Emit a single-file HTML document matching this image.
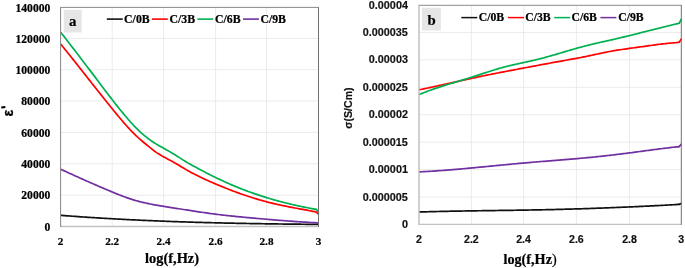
<!DOCTYPE html>
<html><head><meta charset="utf-8"><title>chart</title>
<style>
html,body{margin:0;padding:0;background:#fff;}
body{width:685px;height:268px;overflow:hidden;font-family:"Liberation Sans",sans-serif;}
svg{display:block;will-change:transform;}
</style></head><body>
<svg width="685" height="268" viewBox="0 0 685 268">
<rect x="0" y="0" width="685" height="268" fill="#ffffff"/>
<line x1="60.60" y1="38.40" x2="318.50" y2="38.40" stroke="#e6e6e6" stroke-width="0.8"/>
<line x1="60.60" y1="69.70" x2="318.50" y2="69.70" stroke="#e6e6e6" stroke-width="0.8"/>
<line x1="60.60" y1="101.00" x2="318.50" y2="101.00" stroke="#e6e6e6" stroke-width="0.8"/>
<line x1="60.60" y1="132.40" x2="318.50" y2="132.40" stroke="#e6e6e6" stroke-width="0.8"/>
<line x1="60.60" y1="163.80" x2="318.50" y2="163.80" stroke="#e6e6e6" stroke-width="0.8"/>
<line x1="60.60" y1="195.30" x2="318.50" y2="195.30" stroke="#e6e6e6" stroke-width="0.8"/>
<line x1="112.20" y1="7.40" x2="112.20" y2="226.50" stroke="#e6e6e6" stroke-width="0.8"/>
<line x1="163.60" y1="7.40" x2="163.60" y2="226.50" stroke="#e6e6e6" stroke-width="0.8"/>
<line x1="215.60" y1="7.40" x2="215.60" y2="226.50" stroke="#e6e6e6" stroke-width="0.8"/>
<line x1="266.50" y1="7.40" x2="266.50" y2="226.50" stroke="#e6e6e6" stroke-width="0.8"/>
<rect x="63.8" y="9.8" width="17.9" height="22.7" fill="#e7e6e6"/>
<path d="M60.70,215.34 L62.22,215.45 L63.73,215.57 L65.25,215.68 L66.76,215.80 L68.28,215.91 L69.80,216.02 L71.31,216.13 L72.83,216.24 L74.34,216.35 L75.86,216.46 L77.37,216.57 L78.89,216.67 L80.41,216.78 L81.92,216.88 L83.44,216.98 L84.95,217.09 L86.47,217.19 L87.99,217.29 L89.50,217.39 L91.02,217.49 L92.53,217.58 L94.05,217.68 L95.57,217.77 L97.08,217.87 L98.60,217.96 L100.11,218.06 L101.63,218.15 L103.14,218.24 L104.66,218.33 L106.18,218.42 L107.69,218.51 L109.21,218.59 L110.72,218.68 L112.24,218.76 L113.76,218.85 L115.27,218.93 L116.79,219.02 L118.30,219.10 L119.82,219.18 L121.34,219.26 L122.85,219.34 L124.37,219.42 L125.88,219.50 L127.40,219.57 L128.91,219.65 L130.43,219.73 L131.95,219.80 L133.46,219.87 L134.98,219.95 L136.49,220.02 L138.01,220.09 L139.53,220.16 L141.04,220.23 L142.56,220.30 L144.07,220.37 L145.59,220.44 L147.11,220.51 L148.62,220.57 L150.14,220.64 L151.65,220.70 L153.17,220.77 L154.68,220.83 L156.20,220.89 L157.72,220.95 L159.23,221.01 L160.75,221.07 L162.26,221.13 L163.78,221.19 L165.30,221.25 L166.81,221.31 L168.33,221.37 L169.84,221.42 L171.36,221.48 L172.88,221.53 L174.39,221.59 L175.91,221.64 L177.42,221.69 L178.94,221.74 L180.45,221.80 L181.97,221.85 L183.49,221.90 L185.00,221.95 L186.52,222.00 L188.03,222.04 L189.55,222.09 L191.07,222.14 L192.58,222.18 L194.10,222.23 L195.61,222.28 L197.13,222.32 L198.65,222.36 L200.16,222.41 L201.68,222.45 L203.19,222.49 L204.71,222.53 L206.22,222.58 L207.74,222.62 L209.26,222.66 L210.77,222.70 L212.29,222.73 L213.80,222.77 L215.32,222.81 L216.84,222.85 L218.35,222.88 L219.87,222.92 L221.38,222.96 L222.90,222.99 L224.42,223.03 L225.93,223.06 L227.45,223.09 L228.96,223.13 L230.48,223.16 L231.99,223.19 L233.51,223.22 L235.03,223.26 L236.54,223.29 L238.06,223.32 L239.57,223.35 L241.09,223.38 L242.61,223.40 L244.12,223.43 L245.64,223.46 L247.15,223.49 L248.67,223.52 L250.19,223.54 L251.70,223.57 L253.22,223.60 L254.73,223.62 L256.25,223.65 L257.76,223.67 L259.28,223.69 L260.80,223.72 L262.31,223.74 L263.83,223.77 L265.34,223.79 L266.86,223.81 L268.38,223.83 L269.89,223.85 L271.41,223.88 L272.92,223.90 L274.44,223.92 L275.96,223.94 L277.47,223.96 L278.99,223.98 L280.50,224.00 L282.02,224.01 L283.53,224.03 L285.05,224.05 L286.57,224.07 L288.08,224.09 L289.60,224.10 L291.11,224.12 L292.63,224.14 L294.15,224.15 L295.66,224.17 L297.18,224.19 L298.69,224.20 L300.21,224.22 L301.73,224.23 L303.24,224.25 L304.76,224.26 L306.27,224.28 L307.79,224.29 L309.30,224.30 L310.82,224.32 L312.34,224.33 L313.85,224.34 L315.37,224.36 L316.88,224.37 L318.40,224.38" fill="none" stroke="#111111" stroke-width="1.7" stroke-linejoin="round" stroke-linecap="butt"/>
<path d="M60.70,169.24 L62.22,169.94 L63.73,170.64 L65.25,171.34 L66.76,172.03 L68.28,172.72 L69.80,173.41 L71.31,174.10 L72.83,174.79 L74.34,175.48 L75.86,176.16 L77.37,176.85 L78.89,177.53 L80.41,178.21 L81.92,178.89 L83.44,179.56 L84.95,180.24 L86.47,180.91 L87.99,181.58 L89.50,182.25 L91.02,182.91 L92.53,183.57 L94.05,184.24 L95.57,184.89 L97.08,185.55 L98.60,186.21 L100.11,186.86 L101.63,187.51 L103.14,188.15 L104.66,188.80 L106.18,189.44 L107.69,190.08 L109.21,190.72 L110.72,191.35 L112.24,191.98 L113.76,192.61 L115.27,193.23 L116.79,193.85 L118.30,194.46 L119.82,195.06 L121.34,195.65 L122.85,196.23 L124.37,196.80 L125.88,197.35 L127.40,197.89 L128.91,198.41 L130.43,198.92 L131.95,199.40 L133.46,199.87 L134.98,200.32 L136.49,200.75 L138.01,201.17 L139.53,201.57 L141.04,201.95 L142.56,202.32 L144.07,202.68 L145.59,203.03 L147.11,203.36 L148.62,203.68 L150.14,203.99 L151.65,204.29 L153.17,204.58 L154.68,204.86 L156.20,205.14 L157.72,205.41 L159.23,205.67 L160.75,205.92 L162.26,206.17 L163.78,206.42 L165.30,206.66 L166.81,206.90 L168.33,207.13 L169.84,207.37 L171.36,207.60 L172.88,207.84 L174.39,208.07 L175.91,208.31 L177.42,208.54 L178.94,208.78 L180.45,209.02 L181.97,209.25 L183.49,209.49 L185.00,209.73 L186.52,209.96 L188.03,210.20 L189.55,210.43 L191.07,210.67 L192.58,210.90 L194.10,211.14 L195.61,211.37 L197.13,211.60 L198.65,211.82 L200.16,212.05 L201.68,212.27 L203.19,212.49 L204.71,212.71 L206.22,212.93 L207.74,213.14 L209.26,213.35 L210.77,213.56 L212.29,213.76 L213.80,213.96 L215.32,214.15 L216.84,214.34 L218.35,214.53 L219.87,214.72 L221.38,214.90 L222.90,215.07 L224.42,215.25 L225.93,215.42 L227.45,215.58 L228.96,215.75 L230.48,215.91 L231.99,216.07 L233.51,216.22 L235.03,216.38 L236.54,216.53 L238.06,216.68 L239.57,216.82 L241.09,216.97 L242.61,217.11 L244.12,217.25 L245.64,217.39 L247.15,217.53 L248.67,217.67 L250.19,217.81 L251.70,217.95 L253.22,218.08 L254.73,218.22 L256.25,218.35 L257.76,218.48 L259.28,218.62 L260.80,218.75 L262.31,218.88 L263.83,219.01 L265.34,219.14 L266.86,219.27 L268.38,219.40 L269.89,219.53 L271.41,219.66 L272.92,219.79 L274.44,219.91 L275.96,220.04 L277.47,220.16 L278.99,220.28 L280.50,220.40 L282.02,220.52 L283.53,220.64 L285.05,220.76 L286.57,220.87 L288.08,220.98 L289.60,221.10 L291.11,221.21 L292.63,221.32 L294.15,221.42 L295.66,221.53 L297.18,221.63 L298.69,221.74 L300.21,221.84 L301.73,221.93 L303.24,222.03 L304.76,222.12 L306.27,222.22 L307.79,222.31 L309.30,222.39 L310.82,222.48 L312.34,222.56 L313.85,222.64 L315.37,222.72 L316.88,222.80 L318.40,222.87" fill="none" stroke="#7030a0" stroke-width="1.7" stroke-linejoin="round" stroke-linecap="butt"/>
<path d="M60.70,44.08 L62.21,45.94 L63.72,47.80 L65.23,49.67 L66.74,51.55 L68.25,53.43 L69.76,55.31 L71.27,57.20 L72.79,59.10 L74.30,60.99 L75.81,62.90 L77.32,64.80 L78.83,66.71 L80.34,68.62 L81.85,70.53 L83.36,72.44 L84.87,74.36 L86.38,76.27 L87.89,78.19 L89.40,80.10 L90.91,82.02 L92.42,83.93 L93.93,85.85 L95.44,87.76 L96.96,89.67 L98.47,91.57 L99.98,93.48 L101.49,95.38 L103.00,97.28 L104.51,99.17 L106.02,101.06 L107.53,102.94 L109.04,104.82 L110.55,106.70 L112.06,108.57 L113.57,110.43 L115.08,112.28 L116.59,114.12 L118.10,115.95 L119.62,117.76 L121.13,119.55 L122.64,121.32 L124.15,123.07 L125.66,124.78 L127.17,126.47 L128.68,128.13 L130.19,129.75 L131.70,131.34 L133.21,132.88 L134.72,134.39 L136.23,135.84 L137.74,137.25 L139.25,138.62 L140.76,139.94 L142.28,141.23 L143.79,142.50 L145.30,143.75 L146.81,144.98 L148.32,146.21 L149.83,147.44 L151.34,148.67 L152.85,149.86 L154.36,151.00 L155.87,152.08 L157.38,153.10 L158.89,154.07 L160.40,155.00 L161.91,155.89 L163.42,156.74 L164.93,157.57 L166.45,158.37 L167.96,159.17 L169.47,159.96 L170.98,160.76 L172.49,161.58 L174.00,162.43 L175.51,163.30 L177.02,164.19 L178.53,165.10 L180.04,166.02 L181.55,166.93 L183.06,167.85 L184.57,168.75 L186.08,169.63 L187.59,170.50 L189.11,171.35 L190.62,172.18 L192.13,172.99 L193.64,173.79 L195.15,174.57 L196.66,175.33 L198.17,176.09 L199.68,176.82 L201.19,177.55 L202.70,178.26 L204.21,178.97 L205.72,179.66 L207.23,180.34 L208.74,181.02 L210.25,181.68 L211.77,182.34 L213.28,182.99 L214.79,183.63 L216.30,184.27 L217.81,184.90 L219.32,185.53 L220.83,186.15 L222.34,186.77 L223.85,187.38 L225.36,187.99 L226.87,188.58 L228.38,189.18 L229.89,189.76 L231.40,190.34 L232.91,190.92 L234.42,191.48 L235.94,192.04 L237.45,192.60 L238.96,193.14 L240.47,193.68 L241.98,194.22 L243.49,194.74 L245.00,195.26 L246.51,195.77 L248.02,196.27 L249.53,196.77 L251.04,197.26 L252.55,197.73 L254.06,198.21 L255.57,198.67 L257.08,199.12 L258.60,199.57 L260.11,200.01 L261.62,200.44 L263.13,200.86 L264.64,201.27 L266.15,201.67 L267.66,202.06 L269.17,202.45 L270.68,202.82 L272.19,203.19 L273.70,203.55 L275.21,203.90 L276.72,204.25 L278.23,204.59 L279.74,204.92 L281.26,205.25 L282.77,205.57 L284.28,205.88 L285.79,206.19 L287.30,206.50 L288.81,206.80 L290.32,207.10 L291.83,207.39 L293.34,207.68 L294.85,207.97 L296.36,208.25 L297.87,208.54 L299.38,208.82 L300.89,209.10 L302.40,209.38 L303.91,209.65 L305.43,209.93 L306.94,210.21 L308.45,210.48 L309.96,210.76 L311.47,211.04 L312.98,211.32 L314.49,211.60 L316.00,211.89" fill="none" stroke="#ff0000" stroke-width="1.7" stroke-linejoin="round" stroke-linecap="butt"/>
<path d="M316.00,211.89 L318.40,214.00" fill="none" stroke="#ff0000" stroke-width="1.7" stroke-linecap="round"/>
<path d="M60.70,32.20 L62.21,34.15 L63.73,36.11 L65.24,38.06 L66.75,40.02 L68.27,41.98 L69.78,43.94 L71.29,45.90 L72.80,47.87 L74.32,49.83 L75.83,51.80 L77.34,53.77 L78.86,55.74 L80.37,57.72 L81.88,59.70 L83.40,61.68 L84.91,63.66 L86.42,65.65 L87.93,67.64 L89.45,69.63 L90.96,71.62 L92.47,73.62 L93.99,75.63 L95.50,77.63 L97.01,79.64 L98.53,81.65 L100.04,83.66 L101.55,85.67 L103.06,87.68 L104.58,89.68 L106.09,91.68 L107.60,93.67 L109.12,95.65 L110.63,97.62 L112.14,99.58 L113.66,101.53 L115.17,103.46 L116.68,105.38 L118.19,107.28 L119.71,109.17 L121.22,111.03 L122.73,112.87 L124.25,114.69 L125.76,116.49 L127.27,118.25 L128.79,119.99 L130.30,121.69 L131.81,123.36 L133.32,124.99 L134.84,126.58 L136.35,128.14 L137.86,129.64 L139.38,131.11 L140.89,132.52 L142.40,133.88 L143.92,135.20 L145.43,136.45 L146.94,137.65 L148.46,138.80 L149.97,139.90 L151.48,140.95 L152.99,141.96 L154.51,142.93 L156.02,143.87 L157.53,144.77 L159.05,145.65 L160.56,146.51 L162.07,147.36 L163.59,148.21 L165.10,149.06 L166.61,149.91 L168.12,150.76 L169.64,151.63 L171.15,152.51 L172.66,153.40 L174.18,154.31 L175.69,155.23 L177.20,156.18 L178.72,157.16 L180.23,158.14 L181.74,159.13 L183.25,160.11 L184.77,161.06 L186.28,161.99 L187.79,162.88 L189.31,163.75 L190.82,164.60 L192.33,165.43 L193.85,166.25 L195.36,167.06 L196.87,167.87 L198.38,168.67 L199.90,169.47 L201.41,170.27 L202.92,171.06 L204.44,171.84 L205.95,172.63 L207.46,173.40 L208.98,174.17 L210.49,174.94 L212.00,175.70 L213.51,176.45 L215.03,177.19 L216.54,177.93 L218.05,178.66 L219.57,179.38 L221.08,180.10 L222.59,180.81 L224.11,181.50 L225.62,182.19 L227.13,182.87 L228.64,183.54 L230.16,184.20 L231.67,184.86 L233.18,185.50 L234.70,186.14 L236.21,186.76 L237.72,187.38 L239.24,187.99 L240.75,188.59 L242.26,189.18 L243.78,189.77 L245.29,190.34 L246.80,190.91 L248.31,191.47 L249.83,192.02 L251.34,192.56 L252.85,193.10 L254.37,193.63 L255.88,194.15 L257.39,194.66 L258.91,195.16 L260.42,195.66 L261.93,196.15 L263.44,196.63 L264.96,197.11 L266.47,197.58 L267.98,198.04 L269.50,198.49 L271.01,198.94 L272.52,199.38 L274.04,199.81 L275.55,200.24 L277.06,200.65 L278.57,201.07 L280.09,201.47 L281.60,201.87 L283.11,202.27 L284.63,202.65 L286.14,203.03 L287.65,203.41 L289.17,203.78 L290.68,204.14 L292.19,204.50 L293.70,204.85 L295.22,205.19 L296.73,205.53 L298.24,205.86 L299.76,206.19 L301.27,206.51 L302.78,206.83 L304.30,207.14 L305.81,207.45 L307.32,207.75 L308.83,208.04 L310.35,208.33 L311.86,208.62 L313.37,208.90 L314.89,209.17 L316.40,209.45" fill="none" stroke="#00b050" stroke-width="1.7" stroke-linejoin="round" stroke-linecap="butt"/>
<path d="M316.40,209.45 L318.40,212.00" fill="none" stroke="#00b050" stroke-width="1.7" stroke-linecap="round"/>
<line x1="60.60" y1="226.50" x2="318.50" y2="226.50" stroke="#c2c2c2" stroke-width="1.4"/>
<line x1="60.10" y1="7.40" x2="319.00" y2="7.40" stroke="#8a8a8a" stroke-width="1"/>
<line x1="318.50" y1="7.40" x2="318.50" y2="227.00" stroke="#707070" stroke-width="1"/>
<line x1="60.60" y1="7.40" x2="60.60" y2="227.00" stroke="#858585" stroke-width="1"/>
<text x="72.8" y="26.2" text-anchor="middle" font-family="Liberation Serif, serif" font-weight="bold" stroke="#000" stroke-width="0.22" font-size="14.8" fill="#000">a</text>
<text x="50.3" y="11.50" text-anchor="end" font-family="Liberation Serif, serif" font-weight="bold" stroke="#000" stroke-width="0.22" font-size="11.6" fill="#000">140000</text>
<text x="50.3" y="42.50" text-anchor="end" font-family="Liberation Serif, serif" font-weight="bold" stroke="#000" stroke-width="0.22" font-size="11.6" fill="#000">120000</text>
<text x="50.3" y="73.80" text-anchor="end" font-family="Liberation Serif, serif" font-weight="bold" stroke="#000" stroke-width="0.22" font-size="11.6" fill="#000">100000</text>
<text x="50.3" y="105.10" text-anchor="end" font-family="Liberation Serif, serif" font-weight="bold" stroke="#000" stroke-width="0.22" font-size="11.6" fill="#000">80000</text>
<text x="50.3" y="136.50" text-anchor="end" font-family="Liberation Serif, serif" font-weight="bold" stroke="#000" stroke-width="0.22" font-size="11.6" fill="#000">60000</text>
<text x="50.3" y="167.90" text-anchor="end" font-family="Liberation Serif, serif" font-weight="bold" stroke="#000" stroke-width="0.22" font-size="11.6" fill="#000">40000</text>
<text x="50.3" y="199.40" text-anchor="end" font-family="Liberation Serif, serif" font-weight="bold" stroke="#000" stroke-width="0.22" font-size="11.6" fill="#000">20000</text>
<text x="50.3" y="231.00" text-anchor="end" font-family="Liberation Serif, serif" font-weight="bold" stroke="#000" stroke-width="0.22" font-size="11.6" fill="#000">0</text>
<text x="60.60" y="245.2" text-anchor="middle" font-family="Liberation Serif, serif" font-weight="bold" stroke="#000" stroke-width="0.22" font-size="11.2" fill="#000">2</text>
<text x="112.20" y="245.2" text-anchor="middle" font-family="Liberation Serif, serif" font-weight="bold" stroke="#000" stroke-width="0.22" font-size="11.2" fill="#000">2.2</text>
<text x="163.60" y="245.2" text-anchor="middle" font-family="Liberation Serif, serif" font-weight="bold" stroke="#000" stroke-width="0.22" font-size="11.2" fill="#000">2.4</text>
<text x="215.60" y="245.2" text-anchor="middle" font-family="Liberation Serif, serif" font-weight="bold" stroke="#000" stroke-width="0.22" font-size="11.2" fill="#000">2.6</text>
<text x="266.50" y="245.2" text-anchor="middle" font-family="Liberation Serif, serif" font-weight="bold" stroke="#000" stroke-width="0.22" font-size="11.2" fill="#000">2.8</text>
<text x="318.50" y="245.2" text-anchor="middle" font-family="Liberation Serif, serif" font-weight="bold" stroke="#000" stroke-width="0.22" font-size="11.2" fill="#000">3</text>
<text x="172.1" y="262.7" text-anchor="middle" font-family="Liberation Serif, serif" font-weight="bold" stroke="#000" stroke-width="0.22" font-size="14.4" fill="#000">log(f,Hz)</text>
<text transform="translate(12.8,113.0) rotate(-90) scale(0.93,1)" text-anchor="middle" font-family="Liberation Sans, sans-serif" font-weight="bold" font-size="15.5" fill="#000" stroke="#000" stroke-width="0.3">ε</text>
<rect x="1.2" y="106.3" width="4.2" height="1.9" fill="#000" transform="rotate(-8 3.3 107.2)"/>
<line x1="106.80" y1="19.1" x2="122.70" y2="19.1" stroke="#111111" stroke-width="1.6"/>
<text x="124.10" y="22.9" font-family="Liberation Serif, serif" font-weight="bold" stroke="#000" stroke-width="0.22" font-size="11.8" fill="#000">C/0B</text>
<line x1="151.90" y1="19.1" x2="167.80" y2="19.1" stroke="#ff0000" stroke-width="1.6"/>
<text x="169.50" y="22.9" font-family="Liberation Serif, serif" font-weight="bold" stroke="#000" stroke-width="0.22" font-size="11.8" fill="#000">C/3B</text>
<line x1="197.40" y1="19.1" x2="213.30" y2="19.1" stroke="#00b050" stroke-width="1.6"/>
<text x="215.00" y="22.9" font-family="Liberation Serif, serif" font-weight="bold" stroke="#000" stroke-width="0.22" font-size="11.8" fill="#000">C/6B</text>
<line x1="243.00" y1="19.1" x2="258.90" y2="19.1" stroke="#7030a0" stroke-width="1.6"/>
<text x="260.40" y="22.9" font-family="Liberation Serif, serif" font-weight="bold" stroke="#000" stroke-width="0.22" font-size="11.8" fill="#000">C/9B</text>
<line x1="419.00" y1="32.45" x2="681.30" y2="32.45" stroke="#e6e6e6" stroke-width="0.8"/>
<line x1="419.00" y1="59.80" x2="681.30" y2="59.80" stroke="#e6e6e6" stroke-width="0.8"/>
<line x1="419.00" y1="87.30" x2="681.30" y2="87.30" stroke="#e6e6e6" stroke-width="0.8"/>
<line x1="419.00" y1="114.75" x2="681.30" y2="114.75" stroke="#e6e6e6" stroke-width="0.8"/>
<line x1="419.00" y1="142.20" x2="681.30" y2="142.20" stroke="#e6e6e6" stroke-width="0.8"/>
<line x1="419.00" y1="169.60" x2="681.30" y2="169.60" stroke="#e6e6e6" stroke-width="0.8"/>
<line x1="419.00" y1="197.10" x2="681.30" y2="197.10" stroke="#e6e6e6" stroke-width="0.8"/>
<line x1="471.40" y1="5.30" x2="471.40" y2="224.40" stroke="#e6e6e6" stroke-width="0.8"/>
<line x1="523.60" y1="5.30" x2="523.60" y2="224.40" stroke="#e6e6e6" stroke-width="0.8"/>
<line x1="576.40" y1="5.30" x2="576.40" y2="224.40" stroke="#e6e6e6" stroke-width="0.8"/>
<line x1="629.50" y1="5.30" x2="629.50" y2="224.40" stroke="#e6e6e6" stroke-width="0.8"/>
<rect x="421.9" y="7.8" width="19" height="22.7" fill="#e7e6e6"/>
<path d="M419.00,211.99 L420.51,211.95 L422.03,211.91 L423.54,211.86 L425.05,211.82 L426.56,211.78 L428.08,211.74 L429.59,211.70 L431.10,211.66 L432.62,211.62 L434.13,211.58 L435.64,211.55 L437.15,211.51 L438.67,211.48 L440.18,211.44 L441.69,211.41 L443.20,211.38 L444.72,211.34 L446.23,211.31 L447.74,211.28 L449.26,211.25 L450.77,211.22 L452.28,211.19 L453.79,211.17 L455.31,211.14 L456.82,211.11 L458.33,211.08 L459.85,211.06 L461.36,211.03 L462.87,211.01 L464.38,210.98 L465.90,210.96 L467.41,210.93 L468.92,210.91 L470.43,210.88 L471.95,210.86 L473.46,210.84 L474.97,210.81 L476.49,210.79 L478.00,210.77 L479.51,210.75 L481.02,210.73 L482.54,210.70 L484.05,210.68 L485.56,210.66 L487.08,210.64 L488.59,210.62 L490.10,210.60 L491.61,210.58 L493.13,210.56 L494.64,210.54 L496.15,210.51 L497.67,210.49 L499.18,210.47 L500.69,210.45 L502.20,210.43 L503.72,210.41 L505.23,210.39 L506.74,210.37 L508.25,210.35 L509.77,210.32 L511.28,210.30 L512.79,210.28 L514.31,210.26 L515.82,210.23 L517.33,210.21 L518.84,210.19 L520.36,210.17 L521.87,210.14 L523.38,210.12 L524.90,210.09 L526.41,210.07 L527.92,210.04 L529.43,210.02 L530.95,209.99 L532.46,209.96 L533.97,209.94 L535.48,209.91 L537.00,209.88 L538.51,209.85 L540.02,209.82 L541.54,209.79 L543.05,209.76 L544.56,209.73 L546.07,209.70 L547.59,209.67 L549.10,209.63 L550.61,209.60 L552.13,209.56 L553.64,209.53 L555.15,209.49 L556.66,209.46 L558.18,209.42 L559.69,209.38 L561.20,209.34 L562.72,209.30 L564.23,209.26 L565.74,209.22 L567.25,209.18 L568.77,209.14 L570.28,209.09 L571.79,209.05 L573.30,209.01 L574.82,208.96 L576.33,208.92 L577.84,208.87 L579.36,208.82 L580.87,208.78 L582.38,208.73 L583.89,208.68 L585.41,208.63 L586.92,208.58 L588.43,208.53 L589.95,208.48 L591.46,208.43 L592.97,208.37 L594.48,208.32 L596.00,208.27 L597.51,208.21 L599.02,208.16 L600.53,208.10 L602.05,208.05 L603.56,207.99 L605.07,207.93 L606.59,207.88 L608.10,207.82 L609.61,207.76 L611.12,207.70 L612.64,207.64 L614.15,207.58 L615.66,207.52 L617.18,207.46 L618.69,207.39 L620.20,207.33 L621.71,207.27 L623.23,207.20 L624.74,207.14 L626.25,207.07 L627.77,207.01 L629.28,206.94 L630.79,206.87 L632.30,206.81 L633.82,206.74 L635.33,206.67 L636.84,206.60 L638.35,206.53 L639.87,206.46 L641.38,206.39 L642.89,206.32 L644.41,206.25 L645.92,206.18 L647.43,206.10 L648.94,206.03 L650.46,205.95 L651.97,205.88 L653.48,205.80 L655.00,205.72 L656.51,205.65 L658.02,205.57 L659.53,205.49 L661.05,205.41 L662.56,205.33 L664.07,205.24 L665.58,205.16 L667.10,205.08 L668.61,204.99 L670.12,204.91 L671.64,204.82 L673.15,204.73 L674.66,204.65 L676.17,204.56 L677.69,204.47 L679.20,204.37" fill="none" stroke="#111111" stroke-width="1.7" stroke-linejoin="round" stroke-linecap="butt"/>
<path d="M679.20,204.37 L681.10,203.40" fill="none" stroke="#111111" stroke-width="1.7" stroke-linecap="round"/>
<path d="M419.00,171.90 L420.51,171.83 L422.03,171.75 L423.54,171.67 L425.05,171.59 L426.56,171.50 L428.08,171.41 L429.59,171.32 L431.10,171.23 L432.62,171.13 L434.13,171.03 L435.64,170.93 L437.15,170.83 L438.67,170.72 L440.18,170.61 L441.69,170.50 L443.20,170.39 L444.72,170.28 L446.23,170.16 L447.74,170.04 L449.26,169.92 L450.77,169.80 L452.28,169.67 L453.79,169.55 L455.31,169.42 L456.82,169.29 L458.33,169.16 L459.85,169.03 L461.36,168.90 L462.87,168.76 L464.38,168.63 L465.90,168.49 L467.41,168.35 L468.92,168.21 L470.43,168.07 L471.95,167.93 L473.46,167.79 L474.97,167.65 L476.49,167.50 L478.00,167.36 L479.51,167.22 L481.02,167.07 L482.54,166.92 L484.05,166.78 L485.56,166.63 L487.08,166.49 L488.59,166.34 L490.10,166.19 L491.61,166.04 L493.13,165.90 L494.64,165.75 L496.15,165.60 L497.67,165.46 L499.18,165.31 L500.69,165.16 L502.20,165.02 L503.72,164.87 L505.23,164.73 L506.74,164.58 L508.25,164.44 L509.77,164.30 L511.28,164.15 L512.79,164.01 L514.31,163.87 L515.82,163.73 L517.33,163.59 L518.84,163.46 L520.36,163.32 L521.87,163.18 L523.38,163.05 L524.90,162.92 L526.41,162.79 L527.92,162.66 L529.43,162.53 L530.95,162.40 L532.46,162.27 L533.97,162.15 L535.48,162.02 L537.00,161.90 L538.51,161.77 L540.02,161.65 L541.54,161.52 L543.05,161.40 L544.56,161.28 L546.07,161.16 L547.59,161.04 L549.10,160.92 L550.61,160.79 L552.13,160.67 L553.64,160.55 L555.15,160.43 L556.66,160.31 L558.18,160.19 L559.69,160.06 L561.20,159.94 L562.72,159.82 L564.23,159.69 L565.74,159.57 L567.25,159.44 L568.77,159.32 L570.28,159.19 L571.79,159.06 L573.30,158.93 L574.82,158.80 L576.33,158.67 L577.84,158.54 L579.36,158.41 L580.87,158.27 L582.38,158.13 L583.89,158.00 L585.41,157.86 L586.92,157.72 L588.43,157.57 L589.95,157.43 L591.46,157.28 L592.97,157.13 L594.48,156.98 L596.00,156.83 L597.51,156.67 L599.02,156.51 L600.53,156.36 L602.05,156.19 L603.56,156.03 L605.07,155.86 L606.59,155.70 L608.10,155.53 L609.61,155.35 L611.12,155.18 L612.64,155.00 L614.15,154.83 L615.66,154.65 L617.18,154.46 L618.69,154.28 L620.20,154.09 L621.71,153.90 L623.23,153.71 L624.74,153.52 L626.25,153.33 L627.77,153.13 L629.28,152.94 L630.79,152.74 L632.30,152.54 L633.82,152.34 L635.33,152.14 L636.84,151.93 L638.35,151.73 L639.87,151.53 L641.38,151.32 L642.89,151.12 L644.41,150.91 L645.92,150.71 L647.43,150.50 L648.94,150.30 L650.46,150.10 L651.97,149.90 L653.48,149.70 L655.00,149.50 L656.51,149.30 L658.02,149.10 L659.53,148.91 L661.05,148.72 L662.56,148.52 L664.07,148.34 L665.58,148.15 L667.10,147.97 L668.61,147.79 L670.12,147.61 L671.64,147.44 L673.15,147.27 L674.66,147.10 L676.17,146.94 L677.69,146.78 L679.20,146.62" fill="none" stroke="#7030a0" stroke-width="1.7" stroke-linejoin="round" stroke-linecap="butt"/>
<path d="M679.20,146.62 L681.10,144.40" fill="none" stroke="#7030a0" stroke-width="1.7" stroke-linecap="round"/>
<path d="M419.00,89.85 L420.51,89.54 L422.03,89.23 L423.54,88.92 L425.06,88.60 L426.57,88.29 L428.08,87.97 L429.60,87.64 L431.11,87.32 L432.63,87.00 L434.14,86.67 L435.65,86.34 L437.17,86.01 L438.68,85.68 L440.20,85.34 L441.71,85.01 L443.22,84.68 L444.74,84.34 L446.25,84.00 L447.77,83.67 L449.28,83.33 L450.79,82.99 L452.31,82.65 L453.82,82.31 L455.33,81.97 L456.85,81.64 L458.36,81.30 L459.88,80.96 L461.39,80.62 L462.90,80.29 L464.42,79.95 L465.93,79.62 L467.45,79.28 L468.96,78.95 L470.47,78.62 L471.99,78.29 L473.50,77.96 L475.02,77.63 L476.53,77.31 L478.04,76.98 L479.56,76.66 L481.07,76.34 L482.59,76.03 L484.10,75.71 L485.61,75.40 L487.13,75.09 L488.64,74.78 L490.16,74.48 L491.67,74.17 L493.18,73.87 L494.70,73.57 L496.21,73.27 L497.73,72.97 L499.24,72.68 L500.75,72.39 L502.27,72.09 L503.78,71.80 L505.30,71.51 L506.81,71.22 L508.32,70.93 L509.84,70.64 L511.35,70.36 L512.87,70.07 L514.38,69.79 L515.89,69.50 L517.41,69.22 L518.92,68.93 L520.43,68.65 L521.95,68.36 L523.46,68.08 L524.98,67.79 L526.49,67.51 L528.00,67.22 L529.52,66.94 L531.03,66.65 L532.55,66.37 L534.06,66.09 L535.57,65.80 L537.09,65.52 L538.60,65.24 L540.12,64.95 L541.63,64.67 L543.14,64.39 L544.66,64.11 L546.17,63.83 L547.69,63.55 L549.20,63.27 L550.71,62.99 L552.23,62.71 L553.74,62.43 L555.26,62.16 L556.77,61.88 L558.28,61.61 L559.80,61.34 L561.31,61.06 L562.83,60.79 L564.34,60.52 L565.85,60.25 L567.37,59.98 L568.88,59.71 L570.40,59.44 L571.91,59.16 L573.42,58.89 L574.94,58.61 L576.45,58.32 L577.97,58.04 L579.48,57.75 L580.99,57.46 L582.51,57.16 L584.02,56.86 L585.53,56.55 L587.05,56.24 L588.56,55.92 L590.08,55.60 L591.59,55.27 L593.10,54.94 L594.62,54.62 L596.13,54.29 L597.65,53.96 L599.16,53.64 L600.67,53.32 L602.19,53.00 L603.70,52.69 L605.22,52.38 L606.73,52.08 L608.24,51.78 L609.76,51.50 L611.27,51.22 L612.79,50.95 L614.30,50.69 L615.81,50.44 L617.33,50.19 L618.84,49.95 L620.36,49.72 L621.87,49.49 L623.38,49.26 L624.90,49.04 L626.41,48.82 L627.93,48.61 L629.44,48.40 L630.95,48.19 L632.47,47.98 L633.98,47.78 L635.50,47.57 L637.01,47.37 L638.52,47.17 L640.04,46.96 L641.55,46.76 L643.07,46.55 L644.58,46.34 L646.09,46.13 L647.61,45.92 L649.12,45.70 L650.63,45.49 L652.15,45.28 L653.66,45.07 L655.18,44.86 L656.69,44.65 L658.20,44.45 L659.72,44.26 L661.23,44.07 L662.75,43.89 L664.26,43.72 L665.77,43.56 L667.29,43.41 L668.80,43.27 L670.32,43.14 L671.83,43.02 L673.34,42.89 L674.86,42.76 L676.37,42.60 L677.89,42.41 L679.40,42.18" fill="none" stroke="#ff0000" stroke-width="1.7" stroke-linejoin="round" stroke-linecap="butt"/>
<path d="M679.40,42.18 L681.10,39.20" fill="none" stroke="#ff0000" stroke-width="1.7" stroke-linecap="round"/>
<path d="M419.00,94.58 L420.51,93.96 L422.03,93.35 L423.54,92.76 L425.06,92.17 L426.57,91.60 L428.08,91.04 L429.60,90.49 L431.11,89.95 L432.63,89.41 L434.14,88.89 L435.65,88.37 L437.17,87.86 L438.68,87.36 L440.20,86.86 L441.71,86.37 L443.22,85.89 L444.74,85.41 L446.25,84.93 L447.77,84.46 L449.28,84.00 L450.79,83.53 L452.31,83.07 L453.82,82.61 L455.33,82.15 L456.85,81.70 L458.36,81.24 L459.88,80.79 L461.39,80.33 L462.90,79.87 L464.42,79.42 L465.93,78.96 L467.45,78.49 L468.96,78.03 L470.47,77.56 L471.99,77.09 L473.50,76.61 L475.02,76.13 L476.53,75.65 L478.04,75.16 L479.56,74.66 L481.07,74.17 L482.59,73.67 L484.10,73.17 L485.61,72.68 L487.13,72.19 L488.64,71.70 L490.16,71.21 L491.67,70.73 L493.18,70.26 L494.70,69.79 L496.21,69.33 L497.73,68.88 L499.24,68.44 L500.75,68.01 L502.27,67.59 L503.78,67.17 L505.30,66.77 L506.81,66.38 L508.32,66.00 L509.84,65.63 L511.35,65.27 L512.87,64.92 L514.38,64.57 L515.89,64.23 L517.41,63.90 L518.92,63.56 L520.43,63.23 L521.95,62.91 L523.46,62.58 L524.98,62.25 L526.49,61.92 L528.00,61.59 L529.52,61.25 L531.03,60.91 L532.55,60.57 L534.06,60.22 L535.57,59.87 L537.09,59.50 L538.60,59.13 L540.12,58.75 L541.63,58.37 L543.14,57.97 L544.66,57.56 L546.17,57.15 L547.69,56.73 L549.20,56.30 L550.71,55.87 L552.23,55.44 L553.74,55.00 L555.26,54.56 L556.77,54.11 L558.28,53.67 L559.80,53.22 L561.31,52.78 L562.83,52.33 L564.34,51.88 L565.85,51.44 L567.37,50.99 L568.88,50.55 L570.40,50.11 L571.91,49.67 L573.42,49.23 L574.94,48.80 L576.45,48.37 L577.97,47.94 L579.48,47.52 L580.99,47.11 L582.51,46.70 L584.02,46.29 L585.53,45.89 L587.05,45.50 L588.56,45.12 L590.08,44.74 L591.59,44.37 L593.10,44.01 L594.62,43.66 L596.13,43.31 L597.65,42.96 L599.16,42.62 L600.67,42.28 L602.19,41.95 L603.70,41.61 L605.22,41.28 L606.73,40.94 L608.24,40.60 L609.76,40.26 L611.27,39.92 L612.79,39.57 L614.30,39.22 L615.81,38.87 L617.33,38.51 L618.84,38.15 L620.36,37.79 L621.87,37.43 L623.38,37.06 L624.90,36.70 L626.41,36.33 L627.93,35.95 L629.44,35.58 L630.95,35.21 L632.47,34.83 L633.98,34.45 L635.50,34.08 L637.01,33.70 L638.52,33.32 L640.04,32.94 L641.55,32.55 L643.07,32.17 L644.58,31.79 L646.09,31.41 L647.61,31.02 L649.12,30.64 L650.63,30.26 L652.15,29.88 L653.66,29.50 L655.18,29.11 L656.69,28.73 L658.20,28.35 L659.72,27.98 L661.23,27.60 L662.75,27.22 L664.26,26.85 L665.77,26.47 L667.29,26.10 L668.80,25.73 L670.32,25.36 L671.83,25.00 L673.34,24.63 L674.86,24.27 L676.37,23.91 L677.89,23.56 L679.40,23.20" fill="none" stroke="#00b050" stroke-width="1.7" stroke-linejoin="round" stroke-linecap="butt"/>
<path d="M679.40,23.20 L681.10,19.40" fill="none" stroke="#00b050" stroke-width="1.7" stroke-linecap="round"/>
<line x1="419.00" y1="224.40" x2="681.30" y2="224.40" stroke="#c2c2c2" stroke-width="1.4"/>
<line x1="418.50" y1="5.30" x2="681.80" y2="5.30" stroke="#8a8a8a" stroke-width="1"/>
<line x1="681.30" y1="5.30" x2="681.30" y2="224.90" stroke="#707070" stroke-width="1"/>
<line x1="419.00" y1="5.30" x2="419.00" y2="224.90" stroke="#bcbcbc" stroke-width="1.4"/>
<text x="431.7" y="24.5" text-anchor="middle" font-family="Liberation Serif, serif" font-weight="bold" stroke="#000" stroke-width="0.22" font-size="14.8" fill="#000">b</text>
<text x="407.9" y="8.90" text-anchor="end" font-family="Liberation Sans, sans-serif" font-weight="bold" stroke="#111" stroke-width="0.18" font-size="10.8" fill="#111">0.00004</text>
<text x="407.9" y="36.05" text-anchor="end" font-family="Liberation Sans, sans-serif" font-weight="bold" stroke="#111" stroke-width="0.18" font-size="10.8" fill="#111">0.000035</text>
<text x="407.9" y="63.40" text-anchor="end" font-family="Liberation Sans, sans-serif" font-weight="bold" stroke="#111" stroke-width="0.18" font-size="10.8" fill="#111">0.00003</text>
<text x="407.9" y="90.90" text-anchor="end" font-family="Liberation Sans, sans-serif" font-weight="bold" stroke="#111" stroke-width="0.18" font-size="10.8" fill="#111">0.000025</text>
<text x="407.9" y="118.35" text-anchor="end" font-family="Liberation Sans, sans-serif" font-weight="bold" stroke="#111" stroke-width="0.18" font-size="10.8" fill="#111">0.00002</text>
<text x="407.9" y="145.80" text-anchor="end" font-family="Liberation Sans, sans-serif" font-weight="bold" stroke="#111" stroke-width="0.18" font-size="10.8" fill="#111">0.000015</text>
<text x="407.9" y="173.20" text-anchor="end" font-family="Liberation Sans, sans-serif" font-weight="bold" stroke="#111" stroke-width="0.18" font-size="10.8" fill="#111">0.00001</text>
<text x="407.9" y="200.70" text-anchor="end" font-family="Liberation Sans, sans-serif" font-weight="bold" stroke="#111" stroke-width="0.18" font-size="10.8" fill="#111">0.000005</text>
<text x="407.9" y="228.00" text-anchor="end" font-family="Liberation Sans, sans-serif" font-weight="bold" stroke="#111" stroke-width="0.18" font-size="10.8" fill="#111">0</text>
<text x="419.00" y="243.15" text-anchor="middle" font-family="Liberation Sans, sans-serif" font-weight="bold" stroke="#111" stroke-width="0.18" font-size="10.6" fill="#111">2</text>
<text x="471.40" y="243.15" text-anchor="middle" font-family="Liberation Sans, sans-serif" font-weight="bold" stroke="#111" stroke-width="0.18" font-size="10.6" fill="#111">2.2</text>
<text x="523.60" y="243.15" text-anchor="middle" font-family="Liberation Sans, sans-serif" font-weight="bold" stroke="#111" stroke-width="0.18" font-size="10.6" fill="#111">2.4</text>
<text x="576.40" y="243.15" text-anchor="middle" font-family="Liberation Sans, sans-serif" font-weight="bold" stroke="#111" stroke-width="0.18" font-size="10.6" fill="#111">2.6</text>
<text x="629.50" y="243.15" text-anchor="middle" font-family="Liberation Sans, sans-serif" font-weight="bold" stroke="#111" stroke-width="0.18" font-size="10.6" fill="#111">2.8</text>
<text x="681.30" y="243.15" text-anchor="middle" font-family="Liberation Sans, sans-serif" font-weight="bold" stroke="#111" stroke-width="0.18" font-size="10.6" fill="#111">3</text>
<text x="530.1" y="263.5" text-anchor="middle" font-family="Liberation Serif, serif" font-weight="bold" stroke="#000" stroke-width="0.22" font-size="14.2" fill="#000">log(f,Hz<tspan font-weight="normal">)</tspan></text>
<text transform="translate(352.4,108.05) rotate(-90)" text-anchor="middle" textLength="41.3" lengthAdjust="spacingAndGlyphs" font-family="Liberation Sans, sans-serif" font-weight="bold" stroke="#111" stroke-width="0.18" font-size="11.3" fill="#111">σ(S/Cm)</text>
<line x1="461.30" y1="17.6" x2="477.30" y2="17.6" stroke="#111111" stroke-width="1.5"/>
<text x="478.80" y="21.4" font-family="Liberation Serif, serif" font-weight="bold" stroke="#000" stroke-width="0.22" font-size="11.7" fill="#000">C/0B</text>
<line x1="508.00" y1="17.6" x2="524.00" y2="17.6" stroke="#ff0000" stroke-width="1.5"/>
<text x="525.30" y="21.4" font-family="Liberation Serif, serif" font-weight="bold" stroke="#000" stroke-width="0.22" font-size="11.7" fill="#000">C/3B</text>
<line x1="554.20" y1="17.6" x2="570.20" y2="17.6" stroke="#00b050" stroke-width="1.5"/>
<text x="571.50" y="21.4" font-family="Liberation Serif, serif" font-weight="bold" stroke="#000" stroke-width="0.22" font-size="11.7" fill="#000">C/6B</text>
<line x1="600.40" y1="17.6" x2="616.40" y2="17.6" stroke="#7030a0" stroke-width="1.5"/>
<text x="618.30" y="21.4" font-family="Liberation Serif, serif" font-weight="bold" stroke="#000" stroke-width="0.22" font-size="11.7" fill="#000">C/9B</text>
</svg>
</body></html>
